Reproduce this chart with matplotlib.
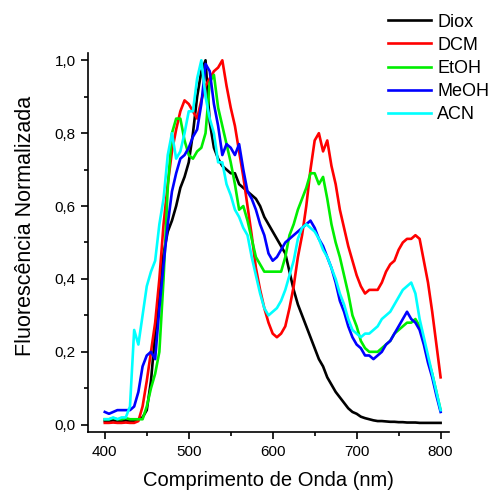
import numpy as np
import matplotlib
matplotlib.use("Agg")
import matplotlib.pyplot as plt
from matplotlib.ticker import MultipleLocator, FuncFormatter

plt.rcParams['font.family'] = ['Liberation Sans', 'DejaVu Sans']

wavelength = list(range(400, 805, 5))

diox = [0.01, 0.01, 0.012, 0.01, 0.01, 0.012, 0.01, 0.01, 0.015, 0.02,
        0.04, 0.12, 0.25, 0.37, 0.47, 0.53, 0.56, 0.60, 0.65, 0.68,
        0.72, 0.80, 0.90, 0.97, 1.0, 0.83, 0.76, 0.73, 0.71, 0.70,
        0.69, 0.69, 0.66, 0.65, 0.64, 0.63, 0.62, 0.60, 0.57, 0.55,
        0.53, 0.51, 0.49, 0.47, 0.42, 0.37, 0.33, 0.30, 0.27, 0.24,
        0.21, 0.18, 0.16, 0.13, 0.11, 0.09, 0.075, 0.06, 0.045, 0.035,
        0.03, 0.022, 0.018, 0.015, 0.012, 0.01, 0.01, 0.009, 0.008, 0.008,
        0.007, 0.007, 0.006, 0.006, 0.006, 0.005, 0.005, 0.005, 0.005, 0.005,
        0.005]

dcm = [0.005, 0.005, 0.006, 0.005, 0.005, 0.006, 0.005, 0.005, 0.01, 0.05,
       0.12, 0.20, 0.28, 0.40, 0.55, 0.66, 0.75, 0.81, 0.86, 0.89,
       0.88, 0.86, 0.84, 0.89, 0.93, 0.95, 0.97, 0.98, 1.0, 0.93,
       0.87, 0.82, 0.75, 0.68, 0.60, 0.52, 0.43, 0.37, 0.32, 0.28,
       0.25, 0.24, 0.25, 0.27, 0.32, 0.38, 0.46, 0.52, 0.60, 0.70,
       0.78, 0.80, 0.75, 0.78, 0.71, 0.66, 0.59, 0.54, 0.49, 0.45,
       0.41, 0.38, 0.36, 0.37, 0.37, 0.37, 0.39, 0.42, 0.44, 0.45,
       0.48, 0.50, 0.51, 0.51, 0.52, 0.51, 0.45, 0.39, 0.31, 0.22,
       0.13]

etoh = [0.015, 0.015, 0.018, 0.015, 0.015, 0.018, 0.015, 0.015, 0.015, 0.015,
        0.05, 0.10, 0.14, 0.20, 0.40, 0.65, 0.80, 0.84, 0.84, 0.78,
        0.74, 0.73, 0.75, 0.76, 0.80, 0.94, 0.96, 0.87, 0.82, 0.77,
        0.72, 0.66, 0.59, 0.60, 0.56, 0.51, 0.46, 0.44, 0.42, 0.42,
        0.42, 0.42, 0.42, 0.46, 0.52, 0.55, 0.59, 0.62, 0.65, 0.69,
        0.69, 0.66, 0.68, 0.62, 0.55, 0.50, 0.46, 0.41, 0.36, 0.30,
        0.27, 0.23, 0.21, 0.20, 0.20, 0.20, 0.21, 0.22, 0.23, 0.25,
        0.26, 0.27, 0.28, 0.28, 0.29, 0.27, 0.23, 0.18, 0.14, 0.09,
        0.04]

meoh = [0.035, 0.03, 0.035, 0.04, 0.04, 0.04, 0.04, 0.05, 0.09, 0.16,
        0.19, 0.20, 0.18, 0.32, 0.44, 0.55, 0.64, 0.69, 0.73, 0.74,
        0.76, 0.79, 0.81, 0.88, 0.99, 0.97, 0.88, 0.82, 0.74, 0.77,
        0.76, 0.74, 0.77, 0.70, 0.64, 0.62, 0.59, 0.55, 0.52, 0.47,
        0.45, 0.46, 0.48, 0.50, 0.51, 0.52, 0.53, 0.54, 0.55, 0.56,
        0.54, 0.51, 0.49, 0.46, 0.43, 0.39, 0.34, 0.31, 0.27, 0.24,
        0.22, 0.21, 0.19, 0.19, 0.18, 0.19, 0.20, 0.22, 0.23, 0.25,
        0.27, 0.29, 0.31, 0.29, 0.28, 0.26, 0.22, 0.17, 0.13, 0.08,
        0.035]

acn = [0.015, 0.015, 0.02, 0.015, 0.02, 0.02, 0.05, 0.26, 0.22, 0.30,
       0.38, 0.42, 0.45, 0.55, 0.62, 0.74, 0.80, 0.73, 0.75, 0.80,
       0.86, 0.86, 0.95, 1.0, 0.90, 0.84, 0.80, 0.72, 0.72, 0.66,
       0.63, 0.59, 0.57, 0.54, 0.52, 0.46, 0.41, 0.36, 0.32, 0.30,
       0.31, 0.32, 0.34, 0.37, 0.41, 0.45, 0.51, 0.54, 0.55, 0.54,
       0.53, 0.51, 0.48, 0.46, 0.43, 0.40, 0.36, 0.33, 0.29, 0.26,
       0.25, 0.24, 0.25, 0.25, 0.26, 0.27, 0.29, 0.30, 0.31, 0.33,
       0.35, 0.37, 0.38, 0.39, 0.36, 0.29, 0.24, 0.19, 0.14, 0.09,
       0.04]

labels = ["Diox", "DCM", "EtOH", "MeOH", "ACN"]
colors = ["#000000", "#ff0000", "#00ee00", "#0000ff", "#00ffff"]
series = [diox, dcm, etoh, meoh, acn]

W, H = 491, 492
fig = plt.figure(figsize=(W / 100, H / 100), dpi=100)
ax = fig.add_axes([88 / W, 1 - 432 / H, (449 - 88) / W, (432 - 53) / H])

lines = []
for y, c, lab in zip(series, colors, labels):
    ln, = ax.plot(wavelength, y, color=c, lw=1.9, label=lab)
    lines.append(ln)

ax.set_xlim(380, 810)
ax.set_ylim(-0.02, 1.02)
ax.spines['top'].set_visible(False)
ax.spines['right'].set_visible(False)
for s in ['left', 'bottom']:
    ax.spines[s].set_linewidth(1.2)

ax.xaxis.set_major_locator(MultipleLocator(100))
ax.xaxis.set_minor_locator(MultipleLocator(50))
ax.yaxis.set_major_locator(MultipleLocator(0.2))
ax.yaxis.set_minor_locator(MultipleLocator(0.1))
ax.yaxis.set_major_formatter(FuncFormatter(lambda v, p: f"{v:.1f}".replace('.', ',')))
ax.tick_params(which='major', direction='out', length=5, width=1.2, labelsize=11, pad=4)
ax.tick_params(which='minor', direction='out', length=3, width=1.2)

ax.set_xlabel("Comprimento de Onda (nm)", fontsize=14.5, labelpad=9)
ax.set_ylabel("Fluorescência Normalizada", fontsize=15.5)
ax.yaxis.set_label_coords(-(88 - 36) / (449 - 88), (432 - 226) / (432 - 53))

fig.legend(handles=lines, loc='upper left', bbox_to_anchor=(375 / W, 1 - 1 / H),
           frameon=False, fontsize=13, handlelength=2.4, handletextpad=0.35,
           labelspacing=0.34, borderpad=0.2)

fig.savefig("out.png", dpi=100)
